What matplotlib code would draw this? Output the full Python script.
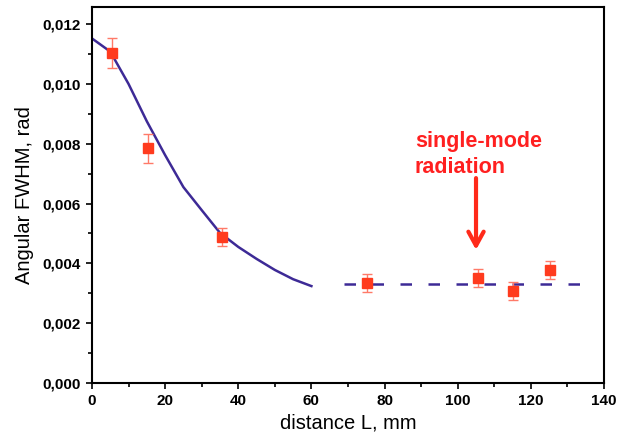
import matplotlib
matplotlib.use("Agg")
import matplotlib.pyplot as plt
from matplotlib.ticker import MultipleLocator, FuncFormatter

plt.rcParams['font.family'] = ['Liberation Sans', 'DejaVu Sans']

# measured data
dist = [5.5, 15.2, 35.5, 75.1, 105.5, 115.2, 125.2]
fwhm = [0.01103, 0.00784, 0.00487, 0.00333, 0.00352, 0.00309, 0.00378]
err = [0.00050, 0.00050, 0.00030, 0.00030, 0.00030, 0.00030, 0.00030]

# model curve (multimode)
curve_x = [0, 5, 10, 15, 20, 25, 30, 35, 40, 45, 50, 55, 60]
curve_y = [0.01152, 0.01108, 0.01000, 0.00875, 0.00762, 0.00655, 0.00578, 0.00502,
           0.00455, 0.00415, 0.00378, 0.00347, 0.00324]

# single-mode level
sm_x = [69, 136]
sm_y = [0.00331, 0.00331]

arrow_x = 105
arrow_y_start = 0.00685
arrow_y_end = 0.00445
label_xy = (88.3, 0.00843)

fig = plt.figure(figsize=(6.17, 4.41), dpi=100)
ax = fig.add_axes([0.149, 0.1315, 0.830, 0.8525])

ax.plot(curve_x, curve_y, color='#3d2a96', lw=1.8, zorder=2)
ax.plot(sm_x, sm_y, color='#3d2a96', lw=1.8, dashes=(4.6, 6.6), zorder=2)
ax.errorbar(dist, fwhm, yerr=err, fmt='none', ecolor='#ff7a68', elinewidth=1.0,
            capsize=3.5, capthick=1.0, zorder=3)
ax.plot(dist, fwhm, 's', color='#ff3b1e', ms=7.5, mec='#ff3b1e', zorder=4)

ax.annotate('', xy=(arrow_x, arrow_y_end), xytext=(arrow_x, arrow_y_start),
            arrowprops=dict(arrowstyle='->,head_length=1.0,head_width=0.55',
                            color='#ff2a1a', lw=3.0, shrinkA=0, shrinkB=0))
ax.text(label_xy[0], label_xy[1], 'single-mode\nradiation', color='#ff2020',
        fontsize=15.5, fontweight='bold', ha='left', va='top', linespacing=1.35)

ax.set_xlim(0, 140)
ax.set_ylim(0, 0.012568)
ax.xaxis.set_major_locator(MultipleLocator(20))
ax.xaxis.set_minor_locator(MultipleLocator(10))
ax.yaxis.set_major_locator(MultipleLocator(0.002))
ax.yaxis.set_minor_locator(MultipleLocator(0.001))
ax.yaxis.set_major_formatter(FuncFormatter(lambda v, p: f"{v:.3f}".replace('.', ',')))

ax.tick_params(which='major', direction='out', length=4.5, width=1.2,
               labelsize=11, top=False, right=False)
ax.tick_params(which='minor', direction='out', length=3, width=1.2,
               top=False, right=False)
for lab in ax.get_xticklabels() + ax.get_yticklabels():
    lab.set_fontweight('bold')
for s in ax.spines.values():
    s.set_linewidth(1.5)

ax.set_xlabel('distance L, mm', fontsize=14.5, labelpad=4)
ax.set_ylabel('Angular FWHM, rad', fontsize=14.5, labelpad=6)

fig.savefig('out.png', dpi=100)
